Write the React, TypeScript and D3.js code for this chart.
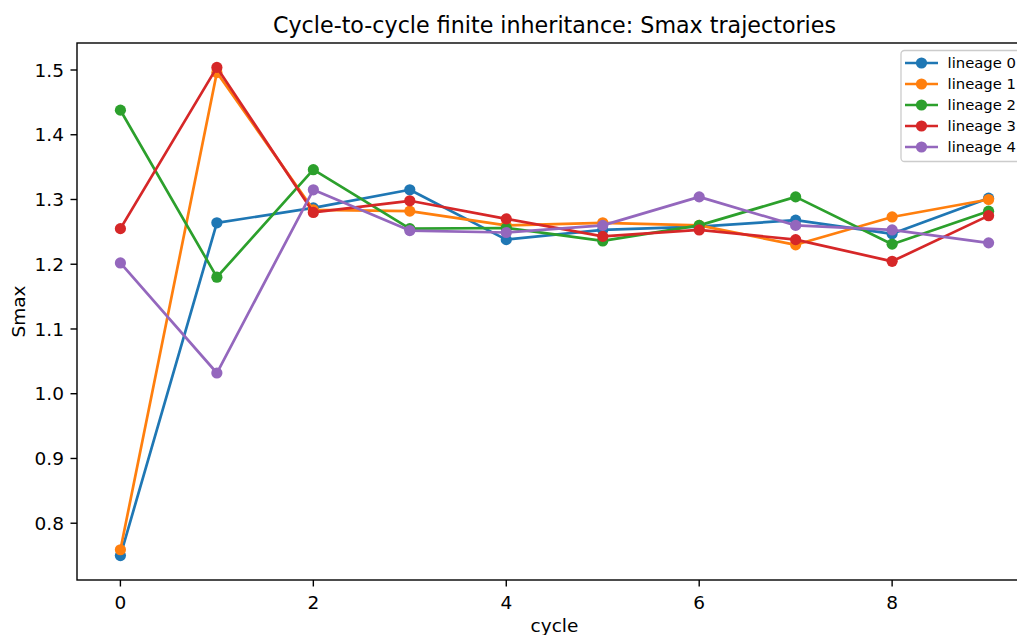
import React from "react";
import * as d3 from "d3";

const cycles = [0, 1, 2, 3, 4, 5, 6, 7, 8, 9];
const seriesNames = ["lineage 0", "lineage 1", "lineage 2", "lineage 3", "lineage 4"];
const lineage0 = [0.750, 1.264, 1.287, 1.315, 1.238, 1.253, 1.258, 1.268, 1.247, 1.302];
const lineage1 = [0.759, 1.496, 1.284, 1.282, 1.260, 1.264, 1.260, 1.230, 1.273, 1.300];
const lineage2 = [1.438, 1.180, 1.346, 1.255, 1.256, 1.236, 1.260, 1.304, 1.231, 1.282];
const lineage3 = [1.255, 1.504, 1.280, 1.298, 1.270, 1.243, 1.253, 1.238, 1.2045, 1.275];
const lineage4 = [1.202, 1.032, 1.315, 1.252, 1.249, 1.260, 1.304, 1.260, 1.253, 1.233];
const allSeries = [lineage0, lineage1, lineage2, lineage3, lineage4];
const colors = ["#1f77b4", "#ff7f0e", "#2ca02c", "#d62728", "#9467bd"];
const xTicks = [0, 2, 4, 6, 8];
const yTicks = [0.8, 0.9, 1.0, 1.1, 1.2, 1.3, 1.4, 1.5];
const title = "Cycle-to-cycle finite inheritance: Smax trajectories";

const W = 1017;
const H = 635;
const left = 77;
const right = 1032;
const top = 43;
const bottom = 580;
const font = "'DejaVu Sans', sans-serif";

export default function App() {
  const allVals = allSeries.flat();
  const yMin = d3.min(allVals)!;
  const yMax = d3.max(allVals)!;
  const yPad = (yMax - yMin) * 0.05;
  const x = d3.scaleLinear().domain([-0.45, 9.45]).range([left, right]);
  const y = d3.scaleLinear().domain([yMin - yPad, yMax + yPad]).range([bottom, top]);
  const line = d3
    .line<number>()
    .x((_, i) => x(cycles[i]))
    .y((d) => y(d));
  const tickLen = 6.5;
  const fs = 18.5;
  const lw = 2.7;
  const mr = 5.6;
  const ts = { fontFamily: font };

  return (
    <svg
      width={W}
      height={H}
      style={{ position: "absolute", left: 0, top: 0, background: "#fff", fontFamily: font }}
    >
      <rect x={0} y={0} width={W} height={H} fill="#fff" />
      <defs>
        <clipPath id="plotclip">
          <rect x={left} y={top} width={right - left} height={bottom - top} />
        </clipPath>
      </defs>
      <g clipPath="url(#plotclip)">
        {allSeries.map((s, si) => (
          <g key={si}>
            <path d={line(s)!} fill="none" stroke={colors[si]} strokeWidth={lw} strokeLinejoin="round" strokeLinecap="square" />
            {s.map((v, i) => (
              <circle key={i} cx={x(cycles[i])} cy={y(v)} r={mr} fill={colors[si]} />
            ))}
          </g>
        ))}
      </g>
      <rect x={left} y={top} width={right - left} height={bottom - top} fill="none" stroke="#000" strokeWidth={1.4} />
      {xTicks.map((t) => (
        <g key={t}>
          <line x1={x(t)} x2={x(t)} y1={bottom} y2={bottom + tickLen} stroke="#000" strokeWidth={1.4} />
          <text x={x(t)} y={bottom + 28.5} textAnchor="middle" fontSize={fs} fill="#000" style={ts}>
            {t}
          </text>
        </g>
      ))}
      {yTicks.map((t) => (
        <g key={t}>
          <line x1={left - tickLen} x2={left} y1={y(t)} y2={y(t)} stroke="#000" strokeWidth={1.4} />
          <text x={left - 13} y={y(t)} dy="0.36em" textAnchor="end" fontSize={fs} fill="#000" style={ts}>
            {t.toFixed(1)}
          </text>
        </g>
      ))}
      <text x={(left + right) / 2} y={632} textAnchor="middle" fontSize={fs} fill="#000" style={ts}>
        cycle
      </text>
      <text
        transform={`translate(${25},${(top + bottom) / 2}) rotate(-90)`}
        textAnchor="middle"
        fontSize={fs}
        fill="#000"
        style={ts}
      >
        Smax
      </text>
      <text x={(left + right) / 2} y={33} textAnchor="middle" fontSize={22.2} fill="#000" style={ts}>
        {title}
      </text>
      <g>
        <rect x={901} y={50.5} width={140} height={111} rx={3.5} fill="#fff" fillOpacity={0.8} stroke="#cccccc" strokeWidth={1.3} />
        {seriesNames.map((n, i) => {
          const cy = 63 + i * 21;
          return (
            <g key={n}>
              <line x1={905} x2={938} y1={cy} y2={cy} stroke={colors[i]} strokeWidth={lw} />
              <circle cx={921.5} cy={cy} r={mr} fill={colors[i]} />
              <text x={947.6} y={cy} dy="0.36em" fontSize={14.8} fill="#000" style={ts}>
                {n}
              </text>
            </g>
          );
        })}
      </g>
    </svg>
  );
}
